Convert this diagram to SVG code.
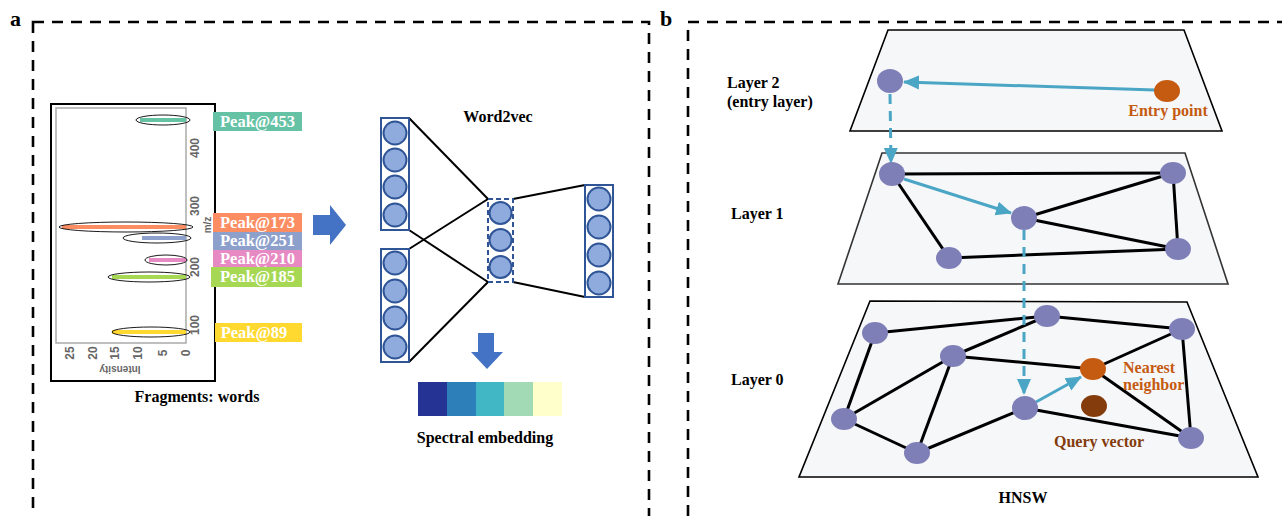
<svg xmlns="http://www.w3.org/2000/svg" width="1282" height="516" viewBox="0 0 1282 516">
<defs>
<style>
.panel{fill:none;stroke:#000;stroke-width:2.6;stroke-dasharray:11 8}
.t{font-family:"Liberation Serif","Times New Roman",serif;font-weight:bold;font-size:16px;fill:#000}
.pk{font-family:"Liberation Serif","Times New Roman",serif;font-weight:bold;font-size:16.5px;fill:#fff;text-anchor:middle}
.tick{font-family:"Liberation Sans",Arial,sans-serif;font-weight:bold;font-size:12px;fill:#666;text-anchor:middle}
.ell{fill:none;stroke:#000;stroke-width:0.9}
.neu{fill:#8faadc;stroke:#2f5597;stroke-width:2}
.col{fill:none;stroke:#2f5597;stroke-width:2}
.wl{stroke:#000;stroke-width:2;fill:none}
.plane{fill:#f6f7f9;stroke:#000;stroke-width:1.6}
.nd{fill:#7f7fb8}
.ed{stroke:#000;stroke-width:3;fill:none}
.ar{stroke:#4ba6c6;stroke-width:3;fill:none}
.da{stroke:#4ba6c6;stroke-width:3;fill:none;stroke-dasharray:10 7}
</style>
<marker id="ah" markerUnits="userSpaceOnUse" markerWidth="16" markerHeight="16" viewBox="0 0 16 16" refX="15" refY="8" orient="auto">
<path d="M0,1 L16,8 L0,15 Z" fill="#4ba6c6"/>
</marker>
</defs>

<!-- panel frames -->
<rect class="panel" x="33" y="22" width="616" height="520"/>
<rect class="panel" x="688" y="22" width="620" height="520"/>
<text class="t" x="10" y="26" style="font-size:22px">a</text>
<text class="t" x="660" y="26" style="font-size:22px">b</text>

<!-- Panel a: spectrum -->
<g id="spectrum">
<rect x="51" y="104" width="164" height="277" fill="#fff" stroke="#000" stroke-width="2"/>
<rect x="56" y="108" width="130" height="235" fill="none" stroke="#aaa" stroke-width="1.5"/>
<g stroke-width="4">
<line x1="140" y1="120" x2="186" y2="120" stroke="#66c2a5"/>
<line x1="62" y1="227" x2="186" y2="227" stroke="#fc8d62"/>
<line x1="142" y1="238" x2="186" y2="238" stroke="#8da0cb"/>
<line x1="149" y1="260" x2="186" y2="260" stroke="#e78ac3"/>
<line x1="112" y1="277" x2="186" y2="277" stroke="#a6d854"/>
<line x1="112" y1="332" x2="186" y2="332" stroke="#ffd92f"/>
</g>
<ellipse class="ell" cx="163" cy="120" rx="27" ry="5"/>
<ellipse class="ell" cx="126" cy="227" rx="67" ry="5"/>
<ellipse class="ell" cx="157" cy="238" rx="34" ry="5"/>
<ellipse class="ell" cx="166" cy="260" rx="21" ry="5"/>
<ellipse class="ell" cx="149" cy="277" rx="41" ry="5"/>
<ellipse class="ell" cx="151" cy="332" rx="39" ry="5"/>
<g class="tick">
<text transform="translate(199,148) rotate(-90)">400</text>
<text transform="translate(199,206) rotate(-90)">300</text>
<text transform="translate(199,267) rotate(-90)">200</text>
<text transform="translate(199,325) rotate(-90)">100</text>
<text transform="translate(74,353) rotate(-90)">25</text>
<text transform="translate(97,353) rotate(-90)">20</text>
<text transform="translate(119,353) rotate(-90)">15</text>
<text transform="translate(142,353) rotate(-90)">10</text>
<text transform="translate(167,353) rotate(-90)">5</text>
<text transform="translate(190,353) rotate(-90)">0</text>
<text transform="translate(211,225) rotate(-90)" style="font-size:10px">m/z</text>
<text transform="translate(120,366) rotate(180)" style="font-size:10px">Intensity</text>
</g>
</g>

<g id="peaks">
<rect x="213" y="112" width="89" height="19" fill="#66c2a5"/>
<text class="pk" x="257.5" y="127">Peak@453</text>
<rect x="213" y="213" width="89" height="19" fill="#fc8d62"/>
<text class="pk" x="257.5" y="228">Peak@173</text>
<rect x="213" y="232" width="89" height="18" fill="#8da0cb"/>
<text class="pk" x="257.5" y="246">Peak@251</text>
<rect x="213" y="250" width="89" height="17" fill="#e78ac3"/>
<text class="pk" x="257.5" y="264">Peak@210</text>
<rect x="211" y="267" width="91" height="20" fill="#a6d854"/>
<text class="pk" x="257.5" y="282">Peak@185</text>
<rect x="215" y="323" width="87" height="19" fill="#ffd92f"/>
<text class="pk" x="254" y="338">Peak@89</text>
</g>
<text class="t" x="197" y="402" text-anchor="middle">Fragments: words</text>

<!-- arrows -->
<path d="M313,215 L330,215 L330,205 L346,225 L330,245 L330,235 L313,235 Z" fill="#4472c4"/>
<path d="M478,333 L494,333 L494,352 L503,352 L487,369 L471,352 L478,352 Z" fill="#4472c4"/>

<!-- Word2vec -->
<text class="t" x="498" y="122" text-anchor="middle">Word2vec</text>
<g id="connectors-w2v">
<line class="wl" x1="409" y1="118" x2="488" y2="199"/>
<line class="wl" x1="409" y1="230" x2="488" y2="282"/>
<line class="wl" x1="409" y1="249" x2="488" y2="199"/>
<line class="wl" x1="409" y1="362" x2="488" y2="282"/>
<line class="wl" x1="513" y1="199" x2="585" y2="185"/>
<line class="wl" x1="513" y1="282" x2="585" y2="297"/>
</g>
<g id="input1">
<rect class="col" x="381" y="118" width="28" height="112"/>
<circle class="neu" cx="395" cy="133" r="11.5"/>
<circle class="neu" cx="395" cy="160" r="11.5"/>
<circle class="neu" cx="395" cy="187" r="11.5"/>
<circle class="neu" cx="395" cy="215" r="11.5"/>
</g>
<g id="input2">
<rect class="col" x="381" y="249" width="28" height="113"/>
<circle class="neu" cx="395" cy="263" r="11.5"/>
<circle class="neu" cx="395" cy="291" r="11.5"/>
<circle class="neu" cx="395" cy="318" r="11.5"/>
<circle class="neu" cx="395" cy="347" r="11.5"/>
</g>
<g id="hidden">
<rect class="col" x="488" y="199" width="25" height="83" stroke-dasharray="5 3"/>
<circle class="neu" cx="500.5" cy="213" r="11"/>
<circle class="neu" cx="500.5" cy="240" r="11"/>
<circle class="neu" cx="500.5" cy="267" r="11"/>
</g>
<g id="output">
<rect class="col" x="585" y="185" width="28" height="112"/>
<circle class="neu" cx="599" cy="199" r="11.5"/>
<circle class="neu" cx="599" cy="227" r="11.5"/>
<circle class="neu" cx="599" cy="255" r="11.5"/>
<circle class="neu" cx="599" cy="283" r="11.5"/>
</g>

<g id="embedding">
<rect x="418" y="382" width="29" height="34" fill="#253494"/>
<rect x="447" y="382" width="29" height="34" fill="#2c7fb8"/>
<rect x="476" y="382" width="28" height="34" fill="#41b6c4"/>
<rect x="504" y="382" width="29" height="34" fill="#a1dab4"/>
<rect x="533" y="382" width="29" height="34" fill="#ffffcc"/>
</g>
<text class="t" x="485" y="443" text-anchor="middle">Spectral embedding</text>

<!-- Panel b: HNSW -->
<polygon class="plane" points="888,30 1184,30 1222,131 850,131"/>
<polygon class="plane" points="882,153 1185,153 1228,284 838,284" style="stroke:#333"/>
<polygon class="plane" points="870,301 1187,302 1258,477 799,477"/>

<text class="t" x="727" y="88">Layer 2</text>
<text class="t" x="727" y="107">(entry layer)</text>
<text class="t" x="731" y="219">Layer 1</text>
<text class="t" x="731" y="385">Layer 0</text>
<text class="t" x="1023" y="503" text-anchor="middle">HNSW</text>

<g id="edges">
<line class="ed" x1="892" y1="174" x2="1173" y2="173"/>
<line class="ed" x1="892" y1="174" x2="949" y2="258"/>
<line class="ed" x1="949" y1="258" x2="1178" y2="249"/>
<line class="ed" x1="1024" y1="218" x2="1173" y2="173"/>
<line class="ed" x1="1024" y1="218" x2="1178" y2="249"/>
<line class="ed" x1="1173" y1="173" x2="1178" y2="249"/>

<line class="ed" x1="875" y1="333" x2="1047" y2="316"/>
<line class="ed" x1="875" y1="333" x2="844" y2="419"/>
<line class="ed" x1="953" y1="356" x2="1047" y2="316"/>
<line class="ed" x1="953" y1="356" x2="1093" y2="369"/>
<line class="ed" x1="953" y1="356" x2="844" y2="419"/>
<line class="ed" x1="953" y1="356" x2="917" y2="453"/>
<line class="ed" x1="844" y1="419" x2="917" y2="453"/>
<line class="ed" x1="917" y1="453" x2="1025" y2="408"/>
<line class="ed" x1="1025" y1="408" x2="1191" y2="438"/>
<line class="ed" x1="1047" y1="316" x2="1182" y2="329"/>
<line class="ed" x1="1182" y1="329" x2="1093" y2="369"/>
<line class="ed" x1="1182" y1="329" x2="1191" y2="438"/>
<line class="ed" x1="1093" y1="369" x2="1191" y2="438"/>
</g>

<g id="search-path">
<line class="ar" x1="1155" y1="90" x2="904" y2="82" marker-end="url(#ah)"/>
<line class="da" x1="890" y1="94" x2="891" y2="163" marker-end="url(#ah)"/>
<line class="ar" x1="904" y1="179" x2="1011" y2="213" marker-end="url(#ah)"/>
<line class="da" x1="1024" y1="230" x2="1024" y2="394" marker-end="url(#ah)"/>
<line class="ar" x1="1036" y1="402" x2="1081" y2="377" marker-end="url(#ah)"/>
</g>

<g id="layer2-nodes">
<ellipse class="nd" cx="890" cy="81" rx="13" ry="12"/>
<ellipse cx="1167" cy="91" rx="13" ry="11" fill="#c55a11"/>
</g>
<g id="layer1-nodes">
<ellipse class="nd" cx="892" cy="174" rx="13" ry="12"/>
<ellipse class="nd" cx="1024" cy="218" rx="13" ry="12"/>
<ellipse class="nd" cx="1173" cy="173" rx="13" ry="11"/>
<ellipse class="nd" cx="1178" cy="249" rx="13" ry="11"/>
<ellipse class="nd" cx="949" cy="258" rx="13" ry="11"/>
</g>
<g id="layer0-nodes">
<ellipse class="nd" cx="875" cy="333" rx="13" ry="11"/>
<ellipse class="nd" cx="953" cy="356" rx="13" ry="11"/>
<ellipse class="nd" cx="844" cy="419" rx="13" ry="11"/>
<ellipse class="nd" cx="917" cy="453" rx="13" ry="11"/>
<ellipse class="nd" cx="1025" cy="408" rx="13" ry="12"/>
<ellipse class="nd" cx="1047" cy="316" rx="13" ry="11"/>
<ellipse class="nd" cx="1182" cy="329" rx="13" ry="11"/>
<ellipse class="nd" cx="1191" cy="438" rx="13" ry="11"/>
<ellipse cx="1093" cy="369" rx="13" ry="11" fill="#c55a11"/>
<ellipse cx="1094" cy="406" rx="13" ry="11" fill="#843c0c"/>
</g>

<text class="t" x="1168" y="116" text-anchor="middle" style="fill:#c55a11">Entry point</text>
<text class="t" x="1123" y="373" style="fill:#c55a11">Nearest</text>
<text class="t" x="1123" y="390" style="fill:#c55a11">neighbor</text>
<text class="t" x="1054" y="447" style="fill:#843c0c">Query vector</text>
</svg>
